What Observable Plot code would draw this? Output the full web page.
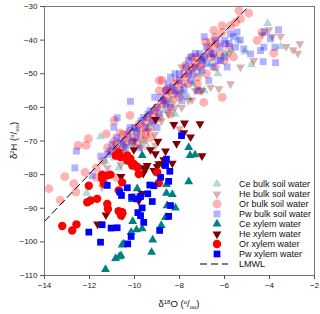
<!DOCTYPE html>
<html><head><meta charset="utf-8">
<script src="https://cdn.jsdelivr.net/npm/d3@7"></script>
<script src="https://cdn.jsdelivr.net/npm/@observablehq/plot@0.6"></script>
<style>html,body{margin:0;padding:0;background:#fff;}</style>
</head><body><div id="chart"></div>
<script>
// ---------- data (δ18O, δ2H) ----------
const ceBulk = [[-11.51,-68.7],[-12.13,-85.5],[-4.08,-35],[-3.51,-41.9],[-4.8,-47.3],[-5.1,-43.5],
[-11.3,-76],[-10.9,-75],[-10.5,-73],[-10.2,-71],[-9.9,-67],[-9.6,-70],[-9.3,-65],[-9.0,-63],[-8.7,-61],[-8.4,-58],[-8.2,-62],[-7.9,-55],[-7.6,-57],[-7.4,-53],[-7.1,-50],[-6.9,-55],[-6.6,-47],[-6.3,-50],[-6.0,-44],[-5.7,-43],[-5.4,-40],[-9.4,-72],[-7.0,-46],[-10.7,-78]];
const heBulk = [[-4.03,-36.9],[-3.88,-38.9],[-3.51,-38.9],[-3.26,-41.9],[-2.95,-42.9],[-2.65,-41.1],[-2.74,-43.9],[-4.7,-46.1],[-4.33,-38.5],
[-6.62,-54],[-6.25,-54.5],[-5.73,-53],[-7.0,-55],[-7.44,-57.8],[-5.29,-48],[-8.0,-66.4],[-9.07,-71.3],[-9.96,-86.2],[-11.44,-83.7],
[-10.8,-72],[-10.4,-74],[-10.0,-70],[-9.7,-72],[-9.4,-67],[-9.1,-68],[-8.8,-64],[-8.5,-62],[-8.2,-60],[-7.9,-60],[-7.6,-58],[-7.3,-55],[-7.9,-48],[-11.2,-78],[-10.6,-77],[-6.5,-45],[-5.8,-44]];
const orBulk = [[-13.8,-84.2],[-13.3,-87.6],[-13.1,-80.6],[-12.7,-82.7],[-12.6,-85.2],[-12.2,-79.3],[-11.7,-78],[-11.7,-80.8],[-10.8,-80.9],
[-12.5,-71.3],[-12.15,-71.3],[-12.05,-69.3],[-11.25,-67.9],[-10.9,-63.9],[-10.65,-67.6],[-10.2,-62.4],[-8.9,-52],[-8.6,-55],
[-5.36,-31.2],[-4.92,-32],[-5.29,-33.7],[-5.51,-34.7],[-5.73,-35.7],[-6.1,-35.7],[-6.48,-37.1],[-6.1,-37.6],[-6.4,-39.1],[-6.84,-40.6],[-6.62,-40.6],[-7.21,-45.1],[-7.44,-45.1],[-7.73,-47.5],[-8.55,-54.5],[-8.77,-52],
[-4.55,-40.1],[-4.33,-37.6],[-3.81,-43.9],[-6.1,-57],[-6.92,-58.5],
[-11.4,-76],[-11.0,-73],[-10.8,-71],[-10.5,-72],[-10.3,-69],[-10.1,-70.5],[-9.9,-66],[-9.7,-68],[-9.5,-64],[-9.3,-66],[-9.1,-61],[-8.9,-63],[-8.7,-58],[-8.5,-60],[-8.3,-56],[-8.2,-53],[-8.0,-55],[-7.8,-50],[-7.6,-53],[-7.4,-48],[-7.2,-51],[-7.0,-47],[-6.8,-50],[-6.6,-45],[-6.4,-48],[-6.2,-44],[-6.0,-46],[-5.8,-42],[-9.6,-70],[-8.4,-62],[-7.1,-55],[-5.6,-45],
[-11.2,-72],[-10.9,-70],[-10.7,-74],[-10.4,-70],[-10.2,-67],[-10.0,-69],[-9.8,-65],[-9.6,-66],[-9.4,-63],[-9.2,-62],[-9.0,-60],[-8.8,-59],[-8.6,-57],[-8.4,-55],[-8.3,-58],[-8.1,-52],[-7.9,-53],[-7.7,-51],[-7.5,-49],[-7.3,-47],[-7.1,-48],[-6.9,-45],[-6.7,-43],[-6.5,-42],[-6.3,-41],[-9.5,-68],[-8.9,-55],[-8.0,-57],[-7.2,-53],[-10.5,-68],[-9.9,-71],[-9.3,-69]];
const pwBulk = [[-12.58,-73],[-12.65,-78],[-10.18,-58.2],[-10.77,-63.1],[-10.92,-65.9],[-11.5,-74.5],[-11.88,-80.3],
[-3.6,-36.9],[-4.22,-37.6],[-3.96,-39.6],[-4.25,-42.1],[-3.76,-42.1],[-4.28,-46.4],[-3.73,-46.7],[-5.44,-37.6],[-5.73,-38.1],[-5.96,-41.1],[-5.51,-42.1],[-5.14,-42.6],[-4.84,-44.1],[-4.4,-43.1],[-6.48,-44.1],[-6.18,-46.1],[-5.88,-48],
[-11.2,-74],[-11,-71],[-10.8,-73],[-10.6,-70],[-10.4,-72],[-10.3,-68],[-10.1,-70],[-10,-66],[-9.9,-69],[-9.7,-64],[-9.5,-66],[-9.4,-62],[-9.2,-64],[-9.0,-60],[-8.9,-62],[-8.7,-58],[-8.6,-55],[-8.4,-60],[-8.3,-54],[-8.1,-56],[-8.0,-52],[-7.9,-58],[-7.8,-54],[-7.6,-50],[-7.5,-52],[-7.3,-48],[-7.2,-55],[-7.0,-49],[-6.9,-45],[-6.7,-52],[-6.5,-48],[-6.3,-46],[-6.8,-42],[-7.1,-44],[-6.0,-40],[-7.5,-45],[-8.2,-50],[-9.1,-57],[-9.8,-72],[-10.5,-75],
[-11.1,-73],[-10.8,-69],[-10.5,-71],[-10.2,-66],[-9.9,-67],[-9.6,-63],[-9.3,-61],[-9.1,-64],[-8.8,-57],[-8.6,-59],[-8.5,-53],[-8.2,-55],[-8.0,-50],[-7.8,-56],[-7.7,-48],[-7.4,-50],[-7.3,-44],[-7.0,-46],[-6.8,-47],[-6.6,-44],[-6.4,-40],[-6.2,-42],[-6.0,-45],[-5.8,-41],[-5.6,-39],[-5.3,-40],[-6.9,-39],[-7.6,-46],[-9.0,-66],[-8.4,-51]];
const ceXylem = [[-7.59,-71.9],[-7.53,-74.3],[-7.31,-74.1],[-9.66,-74.3],[-9.81,-77.8],[-7.59,-82.1],[-8.96,-82.5],[-8.58,-82.9],[-9.88,-84.2],[-10.1,-87.4],[-8.58,-85.5],[-8.32,-85.9],[-8.55,-89.2],[-8.18,-89.9],[-8.62,-92.7],[-8.81,-95.1],[-10.08,-93.9],[-9.91,-96.4],[-9.66,-96.1],[-10.15,-97.1],[-9.19,-99.4],[-10.48,-100.6],[-10.55,-100.9],[-9.24,-103.1],[-10.6,-104.1],[-10.68,-104.4],[-10.84,-104.9],[-11.29,-108.2]];
const heXylem = [[-9.07,-63.6],[-8.25,-65.1],[-7.78,-64.7],[-7.09,-64.9],[-7.81,-67.6],[-7.51,-68.8],[-8.96,-70.1],[-8.13,-70.8],[-8.62,-73],[-9.29,-72.6],[-10.03,-72.6],[-9.07,-73.8],[-7.0,-74.4],[-8.7,-75.6],[-8.92,-76.8],[-8.77,-76.8],[-8.32,-76.6],[-9.51,-78.3],[-9.61,-79.6],[-8.99,-77.6],[-9.88,-77.8],[-9.59,-78],[-9.44,-77.3],[-9.14,-78.8],[-10.6,-80.6],[-9.66,-85.6],[-9.81,-87.7],[-11.64,-94.7],[-11.27,-92],[-10.67,-90.8],[-10.53,-92.2]];
const orXylem = [[-10.7,-73.4],[-10.84,-74.3],[-10.62,-74.8],[-10.32,-74.3],[-10.32,-75.8],[-10.18,-75.3],[-10.1,-77.3],[-10.03,-76.8],[-9.96,-77.4],[-9.88,-77.8],[-9.81,-79.8],[-11.44,-80],[-11.24,-80.3],[-11.07,-80],[-11.44,-81.2],[-11.36,-82.7],[-10.55,-82.3],[-10.7,-84.7],[-12.03,-83.3],[-12.1,-88.2],[-11.96,-87.7],[-11.66,-87.2],[-13.21,-95.3],[-12.77,-96.6],[-12.58,-94.8],[-11.21,-88.7],[-11.18,-90.2],[-10.7,-90.9],[-10.55,-91.2],[-10.59,-92.2],[-8.92,-82.5],[-8.99,-79.3]];
const pwXylem = [[-7.91,-68.4],[-8.58,-75.4],[-8.62,-77.3],[-8.43,-79],[-8.84,-80.8],[-8.48,-82],[-9.32,-83.1],[-9.14,-83.3],[-10.32,-83.9],[-11.21,-83.2],[-10.65,-85.2],[-10.58,-86.2],[-10.13,-86.7],[-9.73,-86.5],[-9.91,-87.2],[-9.41,-85.7],[-9.21,-88],[-9.66,-89.9],[-9.85,-91.3],[-9.73,-92.2],[-9.59,-94.2],[-8.4,-89.2],[-8.48,-92.4],[-8.88,-96.6],[-10.15,-98.4],[-10.3,-100.6],[-10.77,-95.8],[-11.04,-95.9],[-11.44,-94.9],[-11.51,-100.1],[-12.03,-97.1]];
const lmwlX = [-14, -4.93];
const lmwlY = [-93.9, -30];
const xTicks = [-14,-12,-10,-8,-6,-4,-2];
const yTicks = [-110,-100,-90,-80,-70,-60,-50,-40,-30];
const seriesNames = ["Ce bulk soil water","He bulk soil water","Or bulk soil water","Pw bulk soil water","Ce xylem water","He xylem water","Or xylem water","Pw xylem water","LMWL"];

// ---------- styles ----------
const sqrt3 = Math.sqrt(3);
const triangleDown = {draw(ctx, size){ const y = -Math.sqrt(size/(sqrt3*3)); ctx.moveTo(0,-y*2); ctx.lineTo(-sqrt3*y,y); ctx.lineTo(sqrt3*y,y); ctx.closePath(); }};
const styles = [
  {data: ceBulk, symbol: d3.symbolTriangle, color:"#008080", op:0.3, r:3.3},
  {data: heBulk, symbol: triangleDown, color:"#800000", op:0.3, r:3.3},
  {data: orBulk, symbol: d3.symbolCircle, color:"#ff0000", op:0.3, r:4.4},
  {data: pwBulk, symbol: d3.symbolSquare, color:"#0000ff", op:0.3, r:3.9},
  {data: ceXylem, symbol: d3.symbolTriangle, color:"#008080", op:1, r:3.3},
  {data: heXylem, symbol: triangleDown, color:"#800000", op:1, r:3.3},
  {data: orXylem, symbol: d3.symbolCircle, color:"#ff0000", op:1, r:4.2},
  {data: pwXylem, symbol: d3.symbolSquare, color:"#0000ff", op:1, r:3.8}
];
const drawOrder = [2,0,1,3,4,5,6,7];
const FONT = "'Liberation Sans', Arial, sans-serif";

const dotMarks = drawOrder.map(i => {
  const s = styles[i];
  return Plot.dot(s.data, {x: d => d[0], y: d => d[1], symbol: s.symbol, r: s.r, fill: s.color, fillOpacity: s.op, stroke: "none"});
});

const chart = Plot.plot({
  width: 320, height: 314,
  marginLeft: 44, marginRight: 6, marginTop: 6, marginBottom: 39,
  style: {fontFamily: FONT, fontSize: "8px", color: "#222", background: "#fff"},
  x: {domain: [-14, -2]},
  y: {domain: [-110, -30]},
  marks: [
    ...dotMarks,
    Plot.line(lmwlX.map((x,i)=>[x,lmwlY[i]]), {x: d=>d[0], y: d=>d[1], stroke:"#000", strokeWidth:1, strokeDasharray:"7,4"}),
    Plot.frame({stroke:"#777", strokeWidth:1}),
    Plot.axisX({ticks: xTicks, tickSize: 4, tickPadding: 3, label: null, stroke:"#555"}),
    Plot.axisY({ticks: yTicks, tickSize: 4, tickPadding: 3, label: null, stroke:"#555"})
  ]
});
document.getElementById("chart").appendChild(chart);

// ---------- axis titles & legend ----------
const svg = d3.select(chart);
const xt = svg.append("text").attr("x", 179).attr("y", 307).attr("text-anchor","middle")
  .attr("font-family", FONT).attr("font-size", 9.5).attr("fill","#111");
xt.append("tspan").text("δ");
xt.append("tspan").attr("font-size",6).attr("dy",-3.5).text("18");
xt.append("tspan").attr("dy",3.5).text("O (");
xt.append("tspan").attr("font-size",6).attr("dy",-3.5).text("o");
xt.append("tspan").attr("dy",3.5).text("/");
xt.append("tspan").attr("font-size",6).attr("dy",2).text("oo");
xt.append("tspan").attr("dy",-2).text(")");

const yt = svg.append("text").attr("transform","translate(17,140.5) rotate(-90)").attr("text-anchor","middle")
  .attr("font-family", FONT).attr("font-size", 9.5).attr("fill","#111");
yt.append("tspan").text("δ");
yt.append("tspan").attr("font-size",6).attr("dy",-3.5).text("2");
yt.append("tspan").attr("dy",3.5).text("H (");
yt.append("tspan").attr("font-size",6).attr("dy",-3.5).text("o");
yt.append("tspan").attr("dy",3.5).text("/");
yt.append("tspan").attr("font-size",6).attr("dy",2).text("oo");
yt.append("tspan").attr("dy",-2).text(")");

const leg = svg.append("g").attr("font-family", FONT).attr("font-size", 9).attr("fill","#111").attr("text-anchor","start");
seriesNames.forEach((name, i) => {
  const y = 184 + i*10;
  if (i < 8) {
    const s = styles[i];
    const size = Math.PI*s.r*s.r;
    leg.append("path").attr("transform", `translate(217,${y})`).attr("d", d3.symbol(s.symbol, size)())
      .attr("fill", s.color).attr("fill-opacity", s.op);
  } else {
    leg.append("line").attr("x1",200).attr("x2",228).attr("y1",y).attr("y2",y)
      .attr("stroke","#000").attr("stroke-width",1).attr("stroke-dasharray","7,4");
  }
  leg.append("text").attr("x",239).attr("y",y).attr("dy","0.35em").text(name);
});
</script>
</body></html>
